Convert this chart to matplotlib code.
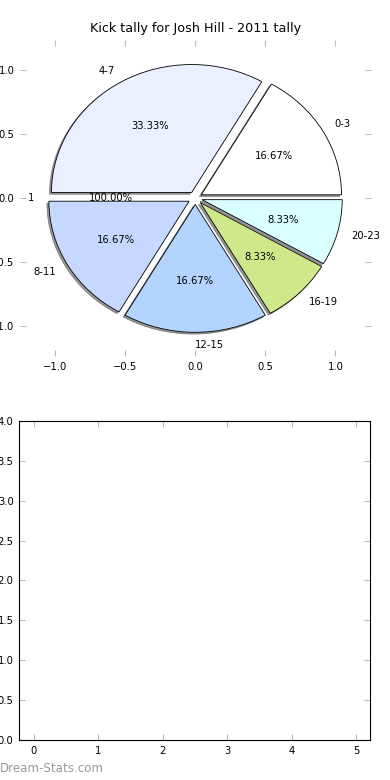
#Kick tally pie chart, with an empty second panel underneath.

import numpy as np
from matplotlib import pyplot as plt


#Kick counts per minute-of-quarter bucket
labels = ['0-3', '4-7', '8-11', '12-15', '16-19', '20-23']
kicks = [2, 4, 2, 2, 1, 1]
colors = ['#ffffff', '#eaf0ff', '#c6d8ff', '#b3d4ff', '#cfe98a', '#d9ffff']

#Second (single wedge) pie that only shows its text
total_labels = ['1']
total_vals = [1]

#Empty lower panel ticks
x_ticks = [0, 1, 2, 3, 4, 5]
y_ticks = [0.0, 0.5, 1.0, 1.5, 2.0, 2.5, 3.0, 3.5, 4.0]

title = 'Kick tally for Josh Hill - 2011 tally'


fig = plt.figure(figsize=(3.9, 7.8), dpi=100)
tick_gray = '#bbbbbb'
fs = 7.2


#Top panel: the pie
ax1 = fig.add_axes([0.051, 0.5436, 0.899, 0.4051])
ax1.pie(kicks, labels=labels, colors=colors, explode=[0.05]*len(kicks),
        autopct='%.2f%%',
        shadow=dict(ox=-0.01, oy=-0.01, facecolor='#555555',
                    edgecolor='#555555', alpha=0.6),
        wedgeprops=dict(edgecolor='black', linewidth=0.6),
        textprops=dict(fontsize=fs))
ax1.pie(total_vals, labels=total_labels, autopct='%.2f%%', labeldistance=1.15,
        wedgeprops=dict(fill=False, linewidth=0),
        textprops=dict(fontsize=fs))
ax1.set_aspect('auto')
for s in ax1.spines.values():
    s.set_visible(False)
ax1.set_xlim(-1.25, 1.25)
ax1.set_ylim(-1.235, 1.235)
ax1.set_xticks([-1.0, -0.5, 0.0, 0.5, 1.0])
ax1.set_yticks([-1.0, -0.5, 0.0, 0.5, 1.0])
ax1.tick_params(direction='in', top=True, right=True, color=tick_gray,
                length=4, labelsize=fs, pad=4)
ax1.set_title(title, fontsize=9.2, pad=6)


#Bottom panel: empty axes
ax2 = fig.add_axes([0.049, 0.0513, 0.90, 0.409])
ax2.set_xlim(-0.23, 5.22)
ax2.set_ylim(0, 4)
ax2.set_xticks(x_ticks)
ax2.set_yticks(y_ticks)
ax2.tick_params(direction='in', top=True, right=True, color=tick_gray,
                length=4, labelsize=fs, pad=4)
for s in ax2.spines.values():
    s.set_linewidth(0.8)


#Site watermark
fig.text(0.0, 0.006, 'Dream-Stats.com', color='#999999', fontsize=8.6,
         ha='left', va='bottom')


plt.savefig('out.png', dpi=100)
